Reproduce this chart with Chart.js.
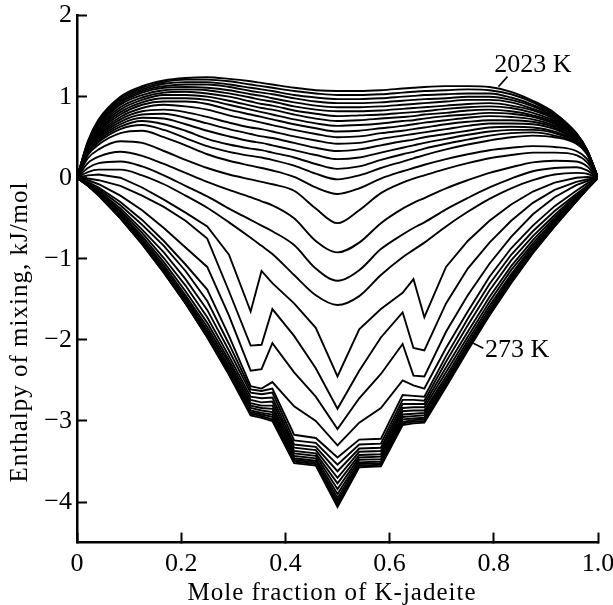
<!DOCTYPE html>
<html><head><meta charset="utf-8">
<script src="https://cdn.jsdelivr.net/npm/chart.js@4.4.1/dist/chart.umd.min.js"></script>
<style>html,body{margin:0;padding:0;background:#fff}#wrap{width:613px;height:605px;position:relative}</style>
</head><body><div id="wrap"><canvas id="c"></canvas></div>
<script>
const moleFraction = [0, 0.0208, 0.0417, 0.0833, 0.125, 0.1667, 0.2083, 0.25, 0.2917, 0.3333, 0.3542, 0.375, 0.4167, 0.4583, 0.5, 0.5417, 0.5833, 0.625, 0.6458, 0.6667, 0.7083, 0.75, 0.7917, 0.8333, 0.875, 0.9167, 0.9583, 0.9792, 1];
const temperaturesK = [273, 323, 373, 423, 473, 523, 573, 623, 673, 723, 773, 823, 873, 923, 973, 1023, 1073, 1123, 1173, 1223, 1273, 1323, 1373, 1423, 1473, 1523, 1573, 1623, 1673, 1723, 1773, 1823, 1873, 1923, 1973, 2023];

const h273 = [0, -0.1, -0.22, -0.5, -0.82, -1.17, -1.55, -1.97, -2.43, -2.93, -2.96, -3.0, -3.52, -3.55, -4.06, -3.57, -3.56, -3.05, -3.03, -3.02, -2.58, -2.13, -1.7, -1.3, -0.93, -0.6, -0.29, -0.14, 0];
const h323 = [0, -0.1, -0.22, -0.5, -0.82, -1.17, -1.55, -1.96, -2.42, -2.91, -2.94, -2.98, -3.5, -3.53, -4.03, -3.55, -3.54, -3.03, -3.01, -3.0, -2.57, -2.12, -1.69, -1.29, -0.92, -0.6, -0.29, -0.14, 0];
const h373 = [0, -0.1, -0.21, -0.49, -0.81, -1.16, -1.54, -1.95, -2.4, -2.89, -2.92, -2.95, -3.48, -3.51, -3.99, -3.53, -3.52, -3.01, -2.99, -2.98, -2.56, -2.11, -1.68, -1.28, -0.92, -0.59, -0.29, -0.14, 0];
const h423 = [0, -0.09, -0.21, -0.48, -0.8, -1.15, -1.53, -1.93, -2.38, -2.87, -2.9, -2.92, -3.46, -3.49, -3.95, -3.51, -3.5, -2.98, -2.97, -2.96, -2.54, -2.1, -1.67, -1.27, -0.91, -0.58, -0.28, -0.14, 0];
const h473 = [0, -0.09, -0.2, -0.47, -0.79, -1.13, -1.51, -1.91, -2.36, -2.84, -2.87, -2.89, -3.43, -3.46, -3.9, -3.48, -3.47, -2.95, -2.94, -2.93, -2.52, -2.08, -1.65, -1.25, -0.89, -0.57, -0.28, -0.13, 0];
const h523 = [0, -0.09, -0.2, -0.46, -0.77, -1.11, -1.48, -1.88, -2.33, -2.81, -2.84, -2.85, -3.4, -3.43, -3.84, -3.45, -3.44, -2.92, -2.91, -2.9, -2.49, -2.05, -1.62, -1.22, -0.87, -0.56, -0.27, -0.13, 0];
const h573 = [0, -0.08, -0.19, -0.45, -0.75, -1.08, -1.45, -1.84, -2.29, -2.78, -2.81, -2.81, -3.37, -3.4, -3.77, -3.42, -3.41, -2.88, -2.87, -2.87, -2.45, -2.01, -1.58, -1.19, -0.84, -0.54, -0.26, -0.13, 0];
const h623 = [0, -0.08, -0.18, -0.43, -0.72, -1.04, -1.4, -1.79, -2.25, -2.74, -2.77, -2.76, -3.33, -3.36, -3.7, -3.38, -3.37, -2.84, -2.83, -2.83, -2.4, -1.96, -1.53, -1.14, -0.81, -0.52, -0.25, -0.12, 0];
const h673 = [0, -0.07, -0.17, -0.41, -0.68, -0.99, -1.33, -1.72, -2.2, -2.7, -2.72, -2.71, -3.29, -3.32, -3.62, -3.34, -3.33, -2.79, -2.79, -2.79, -2.34, -1.9, -1.47, -1.09, -0.77, -0.49, -0.24, -0.12, 0];
const h723 = [0, -0.07, -0.16, -0.38, -0.64, -0.92, -1.25, -1.63, -2.13, -2.65, -2.67, -2.65, -3.24, -3.27, -3.54, -3.29, -3.28, -2.74, -2.74, -2.75, -2.27, -1.82, -1.39, -1.02, -0.72, -0.46, -0.22, -0.11, 0];
const h773 = [0, -0.06, -0.14, -0.34, -0.58, -0.84, -1.15, -1.52, -2.05, -2.61, -2.63, -2.6, -3.17, -3.21, -3.45, -3.23, -3.22, -2.68, -2.69, -2.7, -2.2, -1.74, -1.31, -0.95, -0.66, -0.41, -0.2, -0.1, 0];
const h823 = [0, -0.05, -0.12, -0.3, -0.52, -0.78, -1.07, -1.38, -1.95, -2.57, -2.6, -2.52, -2.82, -3.0, -3.3, -3.02, -2.84, -2.5, -2.56, -2.6, -2.1, -1.65, -1.22, -0.87, -0.59, -0.35, -0.16, -0.07, 0];
const h873 = [0, -0.03, -0.08, -0.22, -0.4, -0.62, -0.86, -1.1, -1.7, -2.38, -2.36, -2.04, -2.4, -2.7, -3.1, -2.72, -2.42, -2.05, -2.44, -2.45, -1.9, -1.45, -1.06, -0.73, -0.45, -0.24, -0.09, -0.04, 0];
const h923 = [0, -0.01, -0.03, -0.1, -0.22, -0.36, -0.53, -0.75, -1.4, -2.07, -2.06, -1.62, -1.95, -2.35, -2.85, -2.38, -1.97, -1.66, -2.1, -2.13, -1.55, -1.12, -0.8, -0.53, -0.31, -0.15, -0.05, -0.02, 0];
const h973 = [0, 0.03, 0.04, 0, -0.12, -0.27, -0.43, -0.6, -0.95, -1.65, -1.15, -1.3, -1.55, -1.85, -2.45, -1.87, -1.62, -1.42, -1.25, -1.72, -1.1, -0.78, -0.53, -0.33, -0.17, -0.06, 0, 0.01, 0];
const h1023 = [0, 0.07, 0.1, 0.1, 0.03, -0.08, -0.22, -0.37, -0.55, -0.74, -0.84, -0.94, -1.2, -1.45, -1.57, -1.46, -1.2, -0.98, -0.89, -0.8, -0.6, -0.42, -0.26, -0.13, -0.03, 0.04, 0.06, 0.05, 0];
const h1073 = [0, 0.12, 0.18, 0.2, 0.14, 0.03, -0.1, -0.23, -0.38, -0.52, -0.59, -0.66, -0.83, -1.12, -1.27, -1.14, -0.88, -0.7, -0.62, -0.55, -0.39, -0.25, -0.12, -0.01, 0.08, 0.12, 0.13, 0.09, 0];
const h1123 = [0, 0.18, 0.26, 0.32, 0.27, 0.17, 0.06, -0.05, -0.15, -0.24, -0.29, -0.34, -0.5, -0.78, -0.92, -0.8, -0.56, -0.38, -0.31, -0.25, -0.13, -0.03, 0.06, 0.13, 0.19, 0.21, 0.2, 0.14, 0];
const h1173 = [0, 0.24, 0.35, 0.45, 0.43, 0.33, 0.22, 0.12, 0.04, -0.02, -0.05, -0.08, -0.16, -0.38, -0.56, -0.4, -0.19, -0.06, -0.01, 0.03, 0.11, 0.18, 0.24, 0.28, 0.31, 0.31, 0.28, 0.19, 0];
const h1223 = [0, 0.28, 0.41, 0.55, 0.58, 0.5, 0.4, 0.29, 0.21, 0.15, 0.12, 0.09, 0.01, -0.12, -0.2, -0.13, -0.01, 0.08, 0.12, 0.16, 0.23, 0.29, 0.34, 0.37, 0.39, 0.38, 0.33, 0.23, 0];
const h1273 = [0, 0.3, 0.44, 0.6, 0.65, 0.59, 0.49, 0.39, 0.32, 0.27, 0.25, 0.22, 0.15, 0.05, -0.02, 0.03, 0.12, 0.2, 0.24, 0.28, 0.35, 0.41, 0.46, 0.5, 0.52, 0.5, 0.42, 0.29, 0];
const h1323 = [0, 0.31, 0.46, 0.63, 0.7, 0.66, 0.58, 0.48, 0.41, 0.36, 0.34, 0.31, 0.25, 0.17, 0.11, 0.14, 0.22, 0.29, 0.32, 0.36, 0.42, 0.47, 0.52, 0.55, 0.56, 0.52, 0.43, 0.29, 0];
const h1373 = [0, 0.32, 0.48, 0.66, 0.74, 0.73, 0.66, 0.58, 0.51, 0.45, 0.43, 0.4, 0.34, 0.28, 0.23, 0.25, 0.31, 0.37, 0.4, 0.43, 0.48, 0.53, 0.57, 0.59, 0.59, 0.55, 0.44, 0.3, 0];
const h1423 = [0, 0.33, 0.5, 0.69, 0.78, 0.79, 0.74, 0.67, 0.6, 0.54, 0.51, 0.49, 0.43, 0.37, 0.33, 0.35, 0.4, 0.45, 0.47, 0.5, 0.54, 0.58, 0.62, 0.63, 0.62, 0.57, 0.45, 0.3, 0];
const h1473 = [0, 0.34, 0.52, 0.72, 0.82, 0.84, 0.81, 0.75, 0.68, 0.62, 0.6, 0.57, 0.51, 0.46, 0.42, 0.43, 0.48, 0.52, 0.54, 0.56, 0.6, 0.64, 0.67, 0.67, 0.66, 0.6, 0.46, 0.3, 0];
const h1523 = [0, 0.35, 0.54, 0.75, 0.86, 0.9, 0.88, 0.84, 0.77, 0.71, 0.68, 0.65, 0.59, 0.54, 0.5, 0.51, 0.55, 0.58, 0.6, 0.62, 0.66, 0.69, 0.71, 0.71, 0.69, 0.62, 0.47, 0.31, 0];
const h1573 = [0, 0.36, 0.56, 0.78, 0.9, 0.94, 0.94, 0.91, 0.84, 0.78, 0.75, 0.72, 0.66, 0.61, 0.57, 0.58, 0.61, 0.64, 0.66, 0.68, 0.71, 0.74, 0.76, 0.75, 0.72, 0.64, 0.48, 0.31, 0];
const h1623 = [0, 0.37, 0.58, 0.81, 0.93, 0.98, 0.98, 0.96, 0.9, 0.84, 0.81, 0.78, 0.72, 0.67, 0.64, 0.65, 0.67, 0.7, 0.71, 0.73, 0.76, 0.78, 0.8, 0.79, 0.75, 0.66, 0.49, 0.31, 0];
const h1673 = [0, 0.38, 0.6, 0.84, 0.96, 1.02, 1.02, 1.0, 0.95, 0.89, 0.86, 0.84, 0.78, 0.73, 0.7, 0.71, 0.73, 0.75, 0.76, 0.78, 0.8, 0.83, 0.84, 0.82, 0.77, 0.68, 0.5, 0.32, 0];
const h1723 = [0, 0.39, 0.62, 0.87, 0.99, 1.05, 1.06, 1.04, 1.0, 0.94, 0.91, 0.89, 0.83, 0.79, 0.76, 0.77, 0.78, 0.8, 0.81, 0.82, 0.85, 0.87, 0.88, 0.86, 0.8, 0.7, 0.51, 0.32, 0];
const h1773 = [0, 0.4, 0.64, 0.9, 1.02, 1.08, 1.09, 1.08, 1.04, 0.99, 0.96, 0.94, 0.88, 0.84, 0.82, 0.82, 0.83, 0.85, 0.86, 0.87, 0.89, 0.91, 0.92, 0.89, 0.83, 0.72, 0.52, 0.33, 0];
const h1823 = [0, 0.41, 0.66, 0.92, 1.05, 1.11, 1.12, 1.11, 1.08, 1.03, 1.01, 0.98, 0.93, 0.89, 0.87, 0.87, 0.88, 0.9, 0.91, 0.92, 0.94, 0.96, 0.96, 0.93, 0.85, 0.74, 0.53, 0.33, 0];
const h1873 = [0, 0.42, 0.67, 0.94, 1.07, 1.13, 1.15, 1.15, 1.12, 1.07, 1.05, 1.03, 0.98, 0.94, 0.92, 0.92, 0.93, 0.95, 0.96, 0.97, 0.98, 1.0, 1.0, 0.96, 0.88, 0.75, 0.54, 0.33, 0];
const h1923 = [0, 0.43, 0.69, 0.96, 1.09, 1.16, 1.18, 1.18, 1.15, 1.11, 1.09, 1.07, 1.02, 0.99, 0.97, 0.97, 0.98, 1.0, 1.01, 1.02, 1.03, 1.04, 1.04, 0.99, 0.9, 0.77, 0.54, 0.34, 0];
const h1973 = [0, 0.44, 0.7, 0.98, 1.11, 1.18, 1.21, 1.21, 1.19, 1.15, 1.13, 1.11, 1.07, 1.04, 1.02, 1.02, 1.03, 1.05, 1.06, 1.07, 1.08, 1.09, 1.08, 1.03, 0.93, 0.78, 0.55, 0.34, 0];
const h2023 = [0, 0.45, 0.72, 1.0, 1.13, 1.2, 1.23, 1.24, 1.22, 1.19, 1.17, 1.15, 1.11, 1.08, 1.07, 1.07, 1.08, 1.1, 1.11, 1.12, 1.13, 1.13, 1.12, 1.06, 0.95, 0.8, 0.55, 0.34, 0];

const seriesValues = [h273, h323, h373, h423, h473, h523, h573, h623, h673, h723, h773, h823, h873, h923, h973, h1023, h1073, h1123, h1173, h1223, h1273, h1323, h1373, h1423, h1473, h1523, h1573, h1623, h1673, h1723, h1773, h1823, h1873, h1923, h1973, h2023];

const xTickValues = [0, 0.2, 0.4, 0.6, 0.8, 1.0];
const xTickLabels = ['0', '0.2', '0.4', '0.6', '0.8', '1.0'];
const yTickValues = [-4, -3, -2, -1, 0, 1, 2];
const yTickLabels = ['\u22124', '\u22123', '\u22122', '\u22121', '0', '1', '2'];
const xTitle = 'Mole fraction of K-jadeite';
const yTitle = 'Enthalpy of mixing, kJ/mol';
const curveLabels = ['2023 K', '273 K'];
const curveLabelAnchorX = [0.809, 0.7607];
const curveLabelAnchorY = [1.124, -2.041];

const SERIF = '"Liberation Serif", "Times New Roman", serif';

const datasets = seriesValues.map((vals, i) => ({
  label: temperaturesK[i] + ' K',
  data: moleFraction.map((x, j) => ({x: x, y: vals[j]})),
  borderColor: '#000',
  borderWidth: 1.9,
  pointRadius: 0,
  fill: false,
  tension: 0,
  cubicInterpolationMode: i >= 15 ? 'monotone' : 'default'
}));

const annotPlugin = {
  id: 'annot',
  beforeDraw(chart) {
    const ctx = chart.ctx;
    ctx.save();
    ctx.fillStyle = '#fff';
    ctx.fillRect(0, 0, chart.width, chart.height);
    ctx.restore();
  },
  afterDraw(chart) {
    const ctx = chart.ctx;
    const xs = chart.scales.x, ys = chart.scales.y;
    ctx.save();
    ctx.fillStyle = '#000';
    ctx.strokeStyle = '#000';
    ctx.font = '25px ' + SERIF;
    try { ctx.letterSpacing = '1px'; } catch (e) {}
    ctx.textAlign = 'center';
    ctx.textBaseline = 'alphabetic';
    ctx.fillText(xTitle, 332, 600);
    ctx.save();
    ctx.translate(27, 332);
    ctx.rotate(-Math.PI / 2);
    ctx.fillText(yTitle, 0, 0);
    ctx.restore();
    try { ctx.letterSpacing = '0px'; } catch (e) {}
    ctx.font = '26px ' + SERIF;
    ctx.textAlign = 'left';
    ctx.lineWidth = 1.5;
    let ax = xs.getPixelForValue(curveLabelAnchorX[0]);
    let ay = ys.getPixelForValue(curveLabelAnchorY[0]);
    ctx.beginPath(); ctx.moveTo(ax, ay); ctx.lineTo(ax + 9, ay - 10); ctx.stroke();
    ctx.fillText(curveLabels[0], ax - 4.3, ay - 14.7);
    ax = xs.getPixelForValue(curveLabelAnchorX[1]);
    ay = ys.getPixelForValue(curveLabelAnchorY[1]);
    ctx.beginPath(); ctx.moveTo(ax, ay); ctx.lineTo(ax + 10, ay + 5); ctx.stroke();
    ctx.fillText(curveLabels[1], ax + 11.7, ay + 14);
    ctx.restore();
  }
};

new Chart(document.getElementById('c'), {
  type: 'line',
  data: {datasets: datasets},
  plugins: [annotPlugin],
  options: {
    responsive: true,
    maintainAspectRatio: false,
    animation: false,
    layout: {padding: {left: 0, right: 15, top: 15.6, bottom: 0}},
    plugins: {legend: {display: false}, tooltip: {enabled: false}, title: {display: false}},
    scales: {
      x: {
        type: 'linear', min: 0, max: 1,
        afterBuildTicks: s => { s.ticks = xTickValues.map(v => ({value: v})); },
        afterFit: s => { s.height = 62.4; s.paddingLeft = 0; s.paddingRight = 0; },
        ticks: {
          autoSkip: false, maxRotation: 0, minRotation: 0, padding: 19, color: '#000',
          font: {family: SERIF, size: 26, lineHeight: 1},
          callback: v => { const k = xTickValues.findIndex(t => Math.abs(t - v) < 1e-9); return k >= 0 ? xTickLabels[k] : ''; }
        },
        grid: {display: true, drawOnChartArea: false, drawTicks: true, tickLength: -10, tickWidth: 2, tickColor: '#000'},
        border: {display: true, color: '#000', width: 2.5}
      },
      y: {
        type: 'linear', min: -4.5, max: 2,
        afterBuildTicks: s => { s.ticks = yTickValues.map(v => ({value: v})); },
        afterFit: s => { s.width = 77; s.paddingTop = 0; s.paddingBottom = 0; },
        ticks: {
          autoSkip: false, padding: 15, color: '#000',
          font: {family: SERIF, size: 26, lineHeight: 1},
          callback: v => { const k = yTickValues.findIndex(t => Math.abs(t - v) < 1e-9); return k >= 0 ? yTickLabels[k] : ''; }
        },
        grid: {display: true, drawOnChartArea: false, drawTicks: true, tickLength: -10, tickWidth: 2, tickColor: '#000'},
        border: {display: true, color: '#000', width: 2.5}
      }
    }
  }
});
</script>
</body></html>
